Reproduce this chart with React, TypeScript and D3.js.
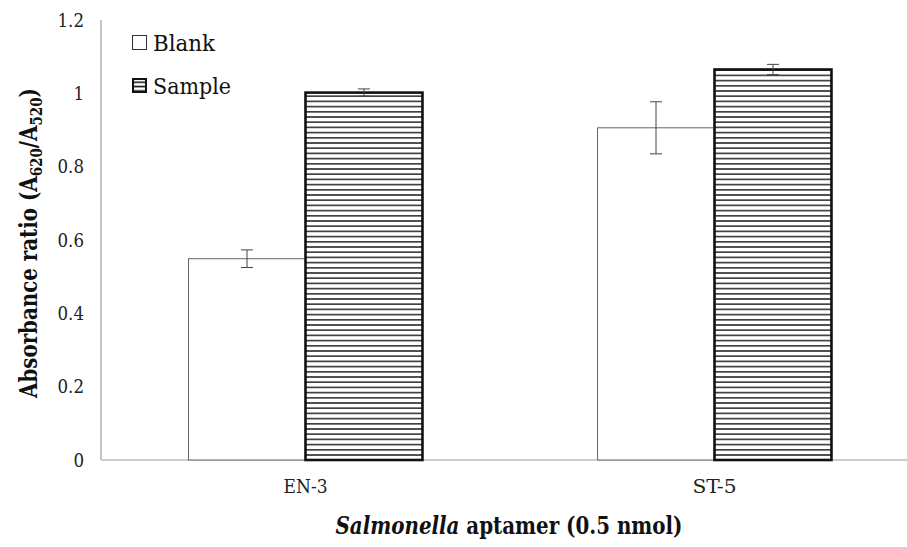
import * as d3 from 'd3';
import React from 'react';

const categories = ['EN-3', 'ST-5'];
const seriesNames = ['Blank', 'Sample'];
const blankValues = [0.549, 0.906];
const blankErrors = [0.024, 0.071];
const sampleValues = [1.002, 1.065];
const sampleErrors = [0.01, 0.014];
const yTicks = [0, 0.2, 0.4, 0.6, 0.8, 1, 1.2];

const width = 907;
const height = 547;
const left = 101;
const right = 919;
const top = 20;
const bottom = 460;
const serif = "'DejaVu Serif Condensed', 'DejaVu Serif', serif";

const App: React.FC = () => {
    const y = d3.scaleLinear().domain([0, 1.2]).range([bottom, top]);
    const x = d3.scaleBand<string>()
        .domain(categories)
        .range([left, right])
        .paddingInner(0.428)
        .paddingOuter(0.214);
    const xs = d3.scaleBand<string>()
        .domain(seriesNames)
        .range([0, x.bandwidth()]);

    const rows = categories.map((c, i) => ({
        cat: c,
        bars: [
            { name: 'Blank', v: blankValues[i], e: blankErrors[i] },
            { name: 'Sample', v: sampleValues[i], e: sampleErrors[i] }
        ]
    }));

    return (
        <svg width={width} height={height} style={{ position: 'absolute', left: 0, top: 0, background: '#fff', fontFamily: serif }}>
            <defs>
                <pattern id="hatch" patternUnits="userSpaceOnUse" width={8} height={5.2}>
                    <rect width={8} height={5.2} fill="#fff" />
                    <line x1={0} x2={8} y1={2.6} y2={2.6} stroke="#333" strokeWidth={1.6} />
                </pattern>
                <pattern id="hatchLegend" patternUnits="userSpaceOnUse" width={8} height={4.4} y={80}>
                    <rect width={8} height={4.4} fill="#fff" />
                    <line x1={0} x2={8} y1={2.2} y2={2.2} stroke="#111" strokeWidth={1.6} />
                </pattern>
            </defs>

            {/* axes */}
            <line x1={left} x2={left} y1={top} y2={bottom} stroke="#888" strokeWidth={1} />
            <line x1={left} x2={right} y1={bottom} y2={bottom} stroke="#bdbdbd" strokeWidth={1.6} />

            {yTicks.map(t => (
                <text key={t} x={left - 17} y={y(t)} textAnchor="end" dominantBaseline="central"
                    fontSize={18.5} fill="#222">{d3.format('~g')(t)}</text>
            ))}

            {rows.map(r => (
                <g key={r.cat} transform={`translate(${x(r.cat)},0)`}>
                    {r.bars.map(b => {
                        const bx = xs(b.name)!;
                        const bw = xs.bandwidth();
                        const isSample = b.name === 'Sample';
                        return (
                            <g key={b.name}>
                                <rect x={bx} y={y(b.v)} width={bw} height={bottom - y(b.v)}
                                    fill={isSample ? 'url(#hatch)' : '#fff'}
                                    stroke={isSample ? '#111' : '#666'}
                                    strokeWidth={isSample ? 2.6 : 1} />
                                <g stroke="#444" strokeWidth={1}>
                                    <line x1={bx + bw / 2} x2={bx + bw / 2} y1={y(b.v + b.e)} y2={y(b.v - b.e)} />
                                    <line x1={bx + bw / 2 - 6} x2={bx + bw / 2 + 6} y1={y(b.v + b.e)} y2={y(b.v + b.e)} />
                                    <line x1={bx + bw / 2 - 6} x2={bx + bw / 2 + 6} y1={y(b.v - b.e)} y2={y(b.v - b.e)} />
                                </g>
                            </g>
                        );
                    })}
                    <text x={x.bandwidth() / 2} y={492.7} textAnchor="middle"
                        fontSize={19} fill="#222" textLength={44} lengthAdjust="spacingAndGlyphs">{r.cat}</text>
                </g>
            ))}

            {/* legend */}
            <rect x={132.5} y={35.5} width={14} height={14} fill="#fff" stroke="#333" strokeWidth={1} />
            <text x={153} y={51} fontSize={23} fill="#111" textLength={62} lengthAdjust="spacingAndGlyphs">Blank</text>
            <rect x={133} y={79} width={13} height={13} fill="url(#hatchLegend)" stroke="#111" strokeWidth={2} />
            <text x={153} y={94} fontSize={23} fill="#111" textLength={78} lengthAdjust="spacingAndGlyphs">Sample</text>

            {/* axis titles */}
            <text transform={`translate(37,243) rotate(-90)`} textAnchor="middle"
                fontSize={25} fontWeight="bold" fill="#111" textLength={310} lengthAdjust="spacingAndGlyphs">
                Absorbance ratio (A<tspan fontSize={17} dy={5}>620</tspan><tspan dy={-5}>/A</tspan><tspan fontSize={17} dy={5}>520</tspan><tspan dy={-5}>)</tspan>
            </text>
            <text x={509} y={534} textAnchor="middle" fontSize={23.5} fontWeight="bold" fill="#111"
                textLength={347} lengthAdjust="spacingAndGlyphs">
                <tspan fontStyle="italic">Salmonella</tspan> aptamer (0.5 nmol)
            </text>
        </svg>
    );
};

export default App;
